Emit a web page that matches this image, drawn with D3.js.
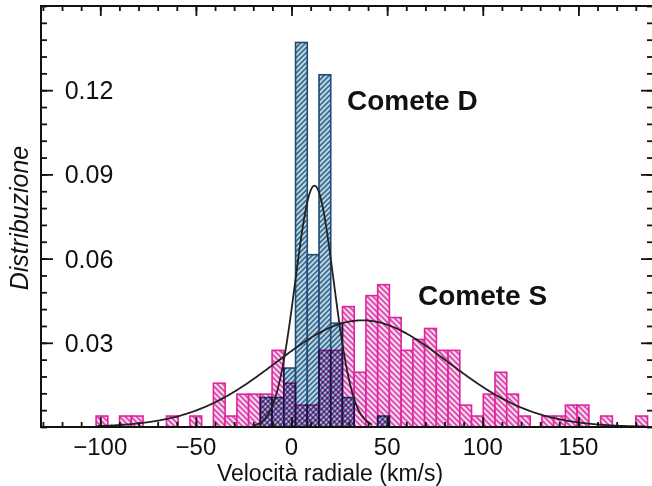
<!DOCTYPE html>
<html>
<head>
<meta charset="utf-8">
<script src="https://cdn.jsdelivr.net/npm/d3@7"></script>
<style>
  body { margin: 0; background: #fff; }
  svg { display: block; }
  text { font-family: "Liberation Sans", Arial, Helvetica, sans-serif; fill: #111; }
</style>
</head>
<body>
<svg id="chart" width="652" height="486"></svg>
<script>
// istogrammi: bordo sinistro del primo bin e larghezza del bin (km/s)
const binStart = -102.2;
const binWidth = 6.135;

// Comete S (magenta), un valore per bin
const cometeS = [
  0.0039, 0, 0.0039, 0.0039, 0, 0, 0.0039, 0, 0.0039, 0,
  0.0156, 0.0039, 0.0117, 0.0117, 0.0117, 0.0273, 0.0156, 0.0078, 0.0078, 0.0273,
  0.0273, 0.0429, 0.0195, 0.0468, 0.0507, 0.039, 0.0273, 0.0312, 0.0351, 0.0273,
  0.0273, 0.0078, 0.0039, 0.0117, 0.0195, 0.0117, 0.0039, 0, 0.0039, 0.0039,
  0.0078, 0.0078, 0, 0.0039, 0, 0, 0.0039
];

// Comete D (blu), stessi bin
const cometeD = [
  0, 0, 0, 0, 0, 0, 0, 0, 0, 0,
  0, 0, 0, 0, 0.0105, 0.0105, 0.021, 0.137, 0.0614, 0.1255,
  0.037, 0.0105, 0, 0, 0.0039, 0, 0, 0, 0, 0,
  0, 0, 0, 0, 0, 0, 0, 0, 0, 0,
  0, 0, 0, 0, 0, 0, 0
];

// fit gaussiani: ampiezza, media, sigma, intervallo disegnato
const fitS = { amp: 0.038, mu: 37, sigma: 45, from: -102, to: 185 };
const fitD = { amp: 0.086, mu: 12, sigma: 10, from: -20, to: 42 };

const xTicks = [-100, -50, 0, 50, 100, 150];
const yTicks = [0.03, 0.06, 0.09, 0.12];

const width = 652;
const height = 486;
const m = { left: 41, right: 653, top: 6, bottom: 427 };

const svg = d3.select("#chart");

const x = d3.scaleLinear().domain([-131, 189]).range([m.left, m.right]);
const y = d3.scaleLinear().domain([0, 0.15]).range([m.bottom, m.top]);

svg.append("rect").attr("width", width).attr("height", height).attr("fill", "#fff");

// tratteggi
const defs = svg.append("defs");
function hatch(id, angle, color, gap, sw) {
  const p = defs.append("pattern")
    .attr("id", id)
    .attr("patternUnits", "userSpaceOnUse")
    .attr("width", gap)
    .attr("height", gap)
    .attr("patternTransform", `rotate(${angle})`);
  p.append("line")
    .attr("x1", gap / 2).attr("y1", -1)
    .attr("x2", gap / 2).attr("y2", gap + 1)
    .attr("stroke", color)
    .attr("stroke-width", sw);
}
hatch("hatchD", 45, "#1d3f66", 3.6, 1.3);
hatch("hatchS", -45, "#d21f9c", 4, 1.5);

function bins(values) {
  return values.map((v, i) => ({
    x0: binStart + i * binWidth,
    x1: binStart + (i + 1) * binWidth,
    v
  })).filter(d => d.v > 0);
}

function drawHist(g, data, bg, pattern, stroke) {
  const sel = g.selectAll("g.bar").data(data).join("g").attr("class", "bar");
  sel.append("rect")
    .attr("x", d => x(d.x0))
    .attr("y", d => y(d.v))
    .attr("width", d => x(d.x1) - x(d.x0))
    .attr("height", d => y(0) - y(d.v))
    .attr("fill", bg);
  sel.append("rect")
    .attr("x", d => x(d.x0))
    .attr("y", d => y(d.v))
    .attr("width", d => x(d.x1) - x(d.x0))
    .attr("height", d => y(0) - y(d.v))
    .attr("fill", `url(#${pattern})`)
    .attr("stroke", stroke)
    .attr("stroke-width", 1.6);
}

const gD = svg.append("g");
drawHist(gD, bins(cometeD), "#b6dcec", "hatchD", "#1f4a76");

const gS = svg.append("g").style("mix-blend-mode", "multiply");
drawHist(gS, bins(cometeS), "#fae0f1", "hatchS", "#e0229f");

// curve gaussiane
function gauss(f) {
  return d3.range(f.from, f.to + 0.01, 0.5).map(v => [v, f.amp * Math.exp(-((v - f.mu) ** 2) / (2 * f.sigma ** 2))]);
}
const line = d3.line().x(d => x(d[0])).y(d => y(d[1]));
[fitS, fitD].forEach(f => {
  svg.append("path")
    .attr("d", line(gauss(f)))
    .attr("fill", "none")
    .attr("stroke", "#222")
    .attr("stroke-width", 1.8);
});

// assi con tacche verso l'interno
const xMinor = d3.range(-130, 190, 10);
const yMinor = d3.range(0, 0.1501, 0.006);

function tickGroup(axis, tr) {
  const g = svg.append("g").attr("transform", tr).call(axis);
  g.select(".domain").remove();
  g.selectAll("line").attr("stroke", "#111").attr("stroke-width", 1.8);
  g.selectAll("text").remove();
  return g;
}
tickGroup(d3.axisBottom(x).tickValues(xMinor).tickSize(-5), `translate(0,${m.bottom})`);
tickGroup(d3.axisBottom(x).tickValues(xTicks).tickSize(-10), `translate(0,${m.bottom})`);
tickGroup(d3.axisTop(x).tickValues(xMinor).tickSize(-5), `translate(0,${m.top})`);
tickGroup(d3.axisTop(x).tickValues(xTicks).tickSize(-10), `translate(0,${m.top})`);
tickGroup(d3.axisLeft(y).tickValues(yMinor).tickSize(-6), `translate(${m.left},0)`);
tickGroup(d3.axisLeft(y).tickValues(yTicks).tickSize(-12), `translate(${m.left},0)`);
tickGroup(d3.axisRight(y).tickValues(yMinor).tickSize(-6), `translate(${m.right},0)`);
tickGroup(d3.axisRight(y).tickValues(yTicks).tickSize(-12), `translate(${m.right},0)`);

svg.append("rect")
  .attr("x", m.left).attr("y", m.top)
  .attr("width", m.right - m.left).attr("height", m.bottom - m.top)
  .attr("fill", "none").attr("stroke", "#111").attr("stroke-width", 2);

// etichette
svg.append("g").selectAll("text").data(xTicks).join("text")
  .attr("x", d => x(d))
  .attr("y", 455)
  .attr("text-anchor", "middle")
  .attr("font-size", 24)
  .text(d => d < 0 ? "\u2212" + Math.abs(d) : d);

svg.append("g").selectAll("text").data(yTicks).join("text")
  .attr("x", 89)
  .attr("y", d => y(d) + 9)
  .attr("text-anchor", "middle")
  .attr("font-size", 25)
  .text(d => d.toFixed(2));

svg.append("text")
  .attr("x", 330).attr("y", 481)
  .attr("text-anchor", "middle")
  .attr("font-size", 23)
  .text("Velocità radiale (km/s)");

svg.append("text")
  .attr("transform", "translate(28,218) rotate(-90)")
  .attr("text-anchor", "middle")
  .attr("font-size", 25)
  .attr("font-style", "italic")
  .text("Distribuzione");

svg.append("text")
  .attr("x", 347).attr("y", 110)
  .attr("font-size", 28).attr("font-weight", "bold")
  .text("Comete D");

svg.append("text")
  .attr("x", 418).attr("y", 305)
  .attr("font-size", 28).attr("font-weight", "bold")
  .text("Comete S");
</script>
</body>
</html>
